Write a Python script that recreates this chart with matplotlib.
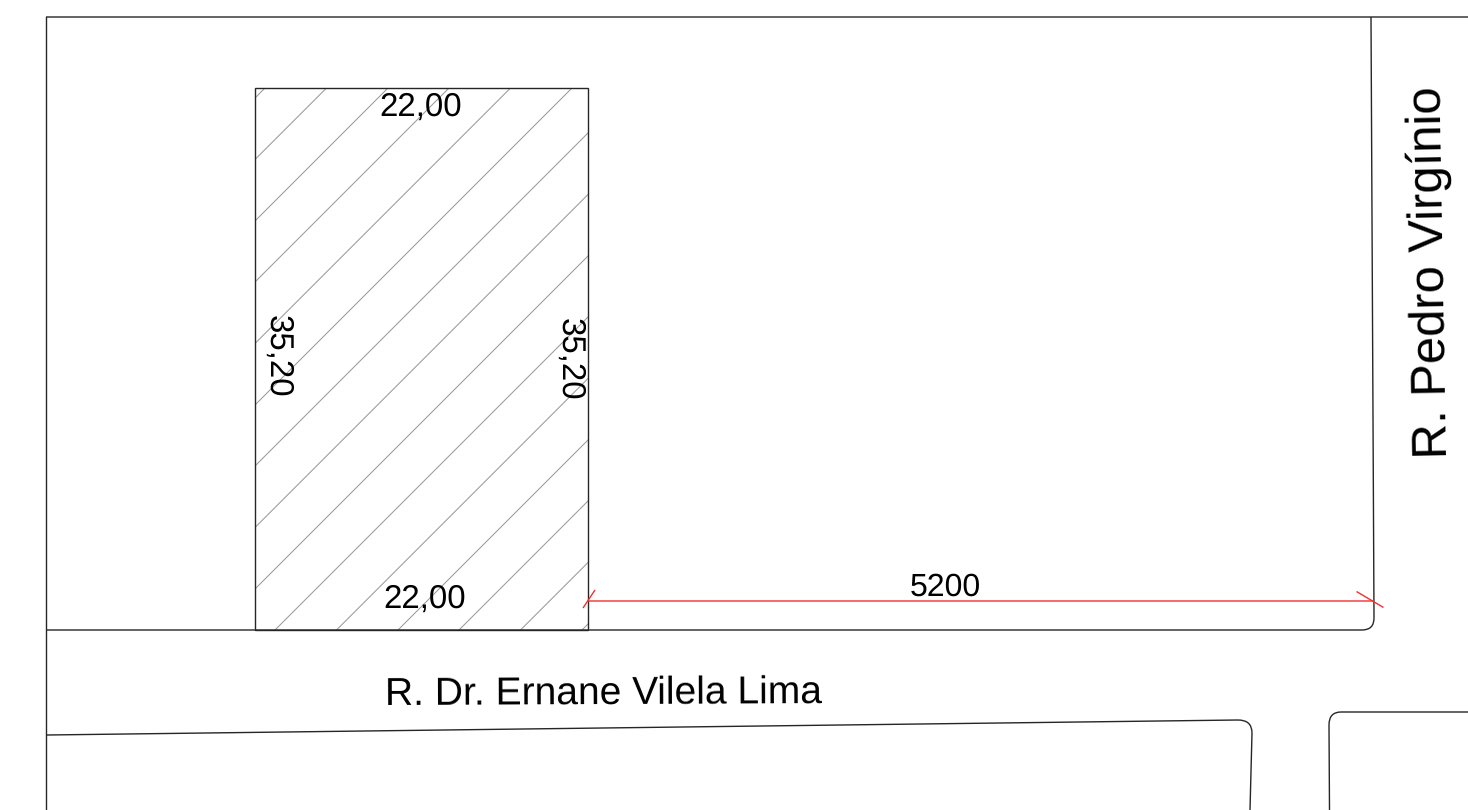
import matplotlib
matplotlib.use("Agg")
import matplotlib.pyplot as plt
from matplotlib.path import Path
from matplotlib.patches import PathPatch, Rectangle

plt.rcParams['font.family'] = ['Liberation Sans', 'DejaVu Sans']
plt.rcParams['text.hinting'] = 'none'
plt.rcParams['text.hinting_factor'] = 1

# Drawing geometry (pixel-like drawing units)
lot_left, lot_right, lot_top, lot_bottom = 255.3, 587.8, 88, 630
hatch_offsets = [353, 414.5, 476, 537, 598.5, 660, 721, 782.5, 844, 905, 966.5, 1028, 1089, 1150.5, 1212]

block_top = [(46, 17), (1468, 17)]
block_left = [(46.5, 17), (46.5, 810)]
block_road_edge = [(46, 630), (1362, 630)]
block_corner = [(1362, 630), (1374.5, 630), (1374, 617)]
block_right = [(1374, 617), (1371, 17)]

south_edge = [(47, 735), (1238, 720)]
south_corner = [(1238, 720), (1252, 720), (1252, 733)]
south_right = [(1252, 733), (1250, 810)]

east_left = [(1329.5, 810), (1329, 725)]
east_corner = [(1329, 725), (1329, 712), (1341, 712)]
east_top = [(1341, 712), (1468, 712)]

dim_line = [(588, 601), (1374, 601)]
dim_tick_a = [(583, 608), (595, 590)]
dim_tick_b = [(1356.5, 591.5), (1383.5, 607.5)]

labels = [
    ("22,00", 421, 107, 0),
    ("22,00", 425, 599, 0),
    ("35,20", 278, 356, -90),
    ("35,20", 570, 359, -90),
    ("5200", 945.5, 587, 0),
    ("R. Dr. Ernane Vilela Lima", 603.5, 694, 0.25),
    ("R. Pedro Virgínio", 1431, 272.5, 91),
]
label_sizes = [23.5, 23.5, 23.5, 23.5, 23.2, 28.2, 35.6]

fig = plt.figure(figsize=(14.68, 8.10), dpi=100, facecolor='white')
ax = fig.add_axes([0, 0, 1, 1])
ax.set_xlim(0, 1468)
ax.set_ylim(810, 0)
ax.axis('off')

LINE = '#262626'
LW = 1.0


def seg(points, color=LINE, lw=LW, z=3):
    xs, ys = zip(*points)
    ax.plot(xs, ys, color=color, lw=lw, solid_capstyle='butt', zorder=z,
            snap=False)


def curve(points, color=LINE, lw=LW):
    ax.add_patch(PathPatch(Path(points, [Path.MOVETO, Path.CURVE3, Path.CURVE3]),
                           fc='none', ec=color, lw=lw, zorder=3))


# Hatching clipped to the lot
clip = Rectangle((lot_left, lot_top), lot_right - lot_left, lot_bottom - lot_top,
                 transform=ax.transData, fc='none', ec='none')
ax.add_patch(clip)
for c in hatch_offsets:
    ln, = ax.plot([c - lot_bottom, c - lot_top], [lot_bottom, lot_top],
                  color='#9a9a9a', lw=0.75, zorder=2)
    ln.set_clip_path(clip)

# Lot outline
ax.add_patch(Rectangle((lot_left, lot_top), lot_right - lot_left, lot_bottom - lot_top,
                       fc='none', ec=LINE, lw=LW, zorder=3))

for s in (block_top, block_left, block_road_edge, block_right,
          south_edge, south_right, east_left, east_top):
    seg(s)
for c in (block_corner, south_corner, east_corner):
    curve(c)

for s in (dim_line, dim_tick_a, dim_tick_b):
    seg(s, color='#f23030', lw=1.0, z=4)

for (txt, x, y, rot), size in zip(labels, label_sizes):
    ax.text(x, y, txt, fontsize=size, rotation=rot, ha='center', va='center',
            color='black', zorder=5, rotation_mode='anchor')

fig.savefig('out.png', dpi=100, facecolor='white')
